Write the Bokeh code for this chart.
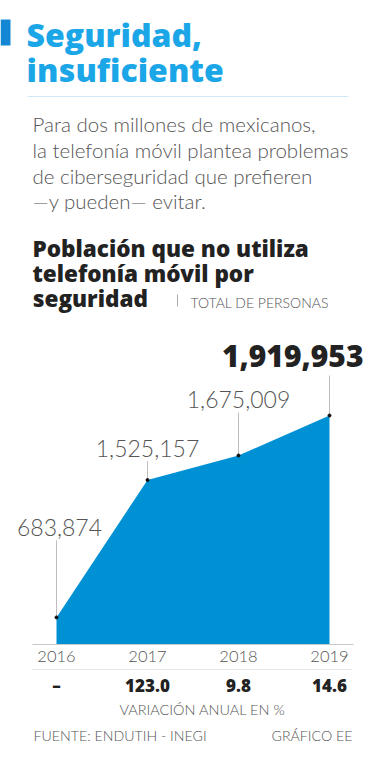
import math
from bokeh.plotting import figure
from bokeh.models import Range1d
from bokeh.core.properties import value
from bokeh.embed import file_html
from bokeh.resources import INLINE

# ---------------- data ----------------
YEARS = [2016, 2017, 2018, 2019]
YEAR_LABELS = ["2016", "2017", "2018", "2019"]
PEOPLE = [683874, 1525157, 1675009, 1919953]
PEOPLE_LABELS = ["683,874", "1,525,157", "1,675,009", "1,919,953"]
VARIATION = ["–", "123.0", "9.8", "14.6"]

TITLE_LINES = ["Seguridad,", "insuficiente"]
BODY_LINES = [
    "Para dos millones de mexicanos,",
    "la telefonía móvil plantea problemas",
    "de ciberseguridad que prefieren",
    "—y pueden— evitar.",
]
SUBTITLE_LINES = ["Población que no utiliza", "telefonía móvil por", "seguridad"]
UNIT_LABEL = "TOTAL DE PERSONAS"
VARIATION_LABEL = "VARIACIÓN ANUAL EN %"
SOURCE = "FUENTE: ENDUTIH - INEGI"
CREDIT = "GRÁFICO EE"

# ---------------- styles / layout ----------------
W, H = 382, 768
TITLE_BLUE = "#1ba6e8"
AREA_BLUE = "#0091d5"
DARK = "#222222"
GREY = "#555555"
LIGHT_FONT = "Lato Light"
BOLD_FONT = "Open Sans ExtraBold"
BASE_SHIFT = 0.35          # renderer draws 'alphabetic' about this many em low

# chart geometry (page px)
X_FIRST_PX, X_LAST_PX = 56, 329
BASE_PX, TOP_PX = 644, 415
BASE_VAL = 518000

# label styling per point
LABEL_ALIGN = ["center", "center", "center", "right"]
LABEL_DX = [3, 0, 0, 34]
LABEL_GAP = [82, 23, 48, 49]
LEADER_LEN = [77, 19, 43, 40]
LABEL_SIZE = [23, 23, 23, 30]
LABEL_STYLE = ["normal", "normal", "normal", "bold"]
LABEL_COLOR = [GREY, GREY, GREY, DARK]

vpp = (max(PEOPLE) - BASE_VAL) / (BASE_PX - TOP_PX)
ypp = (YEARS[-1] - YEARS[0]) / (X_LAST_PX - X_FIRST_PX)
x_range = Range1d(YEARS[0] - X_FIRST_PX * ypp, YEARS[-1] + (W - X_LAST_PX) * ypp)
y_range = Range1d(BASE_VAL - (H - BASE_PX) * vpp, BASE_VAL + BASE_PX * vpp)

p = figure(width=W, height=H, x_range=x_range, y_range=y_range,
           output_backend="svg", toolbar_location=None,
           x_axis_location=None, y_axis_location=None,
           min_border=0, outline_line_color=None,
           background_fill_color="white", border_fill_color="white")
p.grid.visible = False
p.extra_x_ranges = {"px": Range1d(0, W)}
p.extra_y_ranges = {"px": Range1d(H, 0)}
PX = dict(x_range_name="px", y_range_name="px")


def txt(x, y, s, size, color, font=LIGHT_FONT, bold=False, align="left"):
    p.text(x=[x], y=[y - BASE_SHIFT * size], text=[s], text_font=value(font),
           text_font_size=f"{size}px", text_color=color, text_align=align,
           text_baseline="alphabetic",
           text_font_style="bold" if bold else "normal", **PX)


# ---- header ----
p.quad(left=[0], right=[10], top=[19], bottom=[45],
       color="#1487d4", line_color=None, **PX)
for i, s in enumerate(TITLE_LINES):
    txt(26, 45 + 35 * i, s, 32, TITLE_BLUE, font=BOLD_FONT)
p.segment(x0=[27], y0=[96], x1=[348], y1=[96], line_color="#d3e9f7",
          line_width=1, **PX)
for i, s in enumerate(BODY_LINES):
    txt(32, 131 + 25.7 * i, s, 20.5, GREY)
for i, s in enumerate(SUBTITLE_LINES):
    txt(32, 256 + 25 * i, s, 22.5, DARK, font=BOLD_FONT)
p.segment(x0=[177], y0=[294], x1=[177], y1=[306], line_color="#aaaaaa",
          line_width=1, **PX)
txt(190, 307, UNIT_LABEL, 14, GREY)

# ---- chart ----
p.varea(x=YEARS, y1=[BASE_VAL] * len(YEARS), y2=PEOPLE, fill_color=AREA_BLUE)
p.segment(x0=[32], y0=[BASE_PX], x1=[353], y1=[BASE_PX],
          line_color="#c8c8c8", line_width=1, **PX)
p.ray(x=YEARS, y=PEOPLE, length=LEADER_LEN, length_units="screen",
      angle=math.pi / 2, line_color="#bdbdbd", line_width=1)
p.scatter(x=YEARS, y=PEOPLE, size=3, color="#111111")
for i in range(len(YEARS)):
    sz = LABEL_SIZE[i]
    p.text(x=[YEARS[i]], y=[PEOPLE[i]], text=[PEOPLE_LABELS[i]],
           x_offset=LABEL_DX[i], y_offset=-LABEL_GAP[i] - BASE_SHIFT * sz,
           text_align=LABEL_ALIGN[i], text_baseline="alphabetic",
           text_font=value(BOLD_FONT if LABEL_STYLE[i] == "bold" else LIGHT_FONT),
           text_font_size=f"{sz}px", text_color=LABEL_COLOR[i])

# year ticks & variation row
p.text(x=YEARS, y=[662 - BASE_SHIFT * 16.5] * len(YEARS), text=YEAR_LABELS,
       y_range_name="px", text_align="center", text_baseline="alphabetic",
       text_font=value(LIGHT_FONT), text_font_size="16.5px", text_color=GREY)
p.segment(x0=[32], y0=[669], x1=[352], y1=[669], line_color="#e6e6e6",
          line_width=1, **PX)
p.text(x=YEARS, y=[691 - BASE_SHIFT * 17] * len(YEARS), text=VARIATION,
       y_range_name="px", text_align="center", text_baseline="alphabetic",
       text_font=value(BOLD_FONT), text_font_size="17px", text_color=DARK)
txt(202, 714, VARIATION_LABEL, 14.5, GREY, align="center")

# ---- footer ----
txt(33, 740, SOURCE, 14.2, GREY)
txt(352, 740, CREDIT, 14.2, GREY, align="right")

open("out.html", "w").write(file_html(p, INLINE))
